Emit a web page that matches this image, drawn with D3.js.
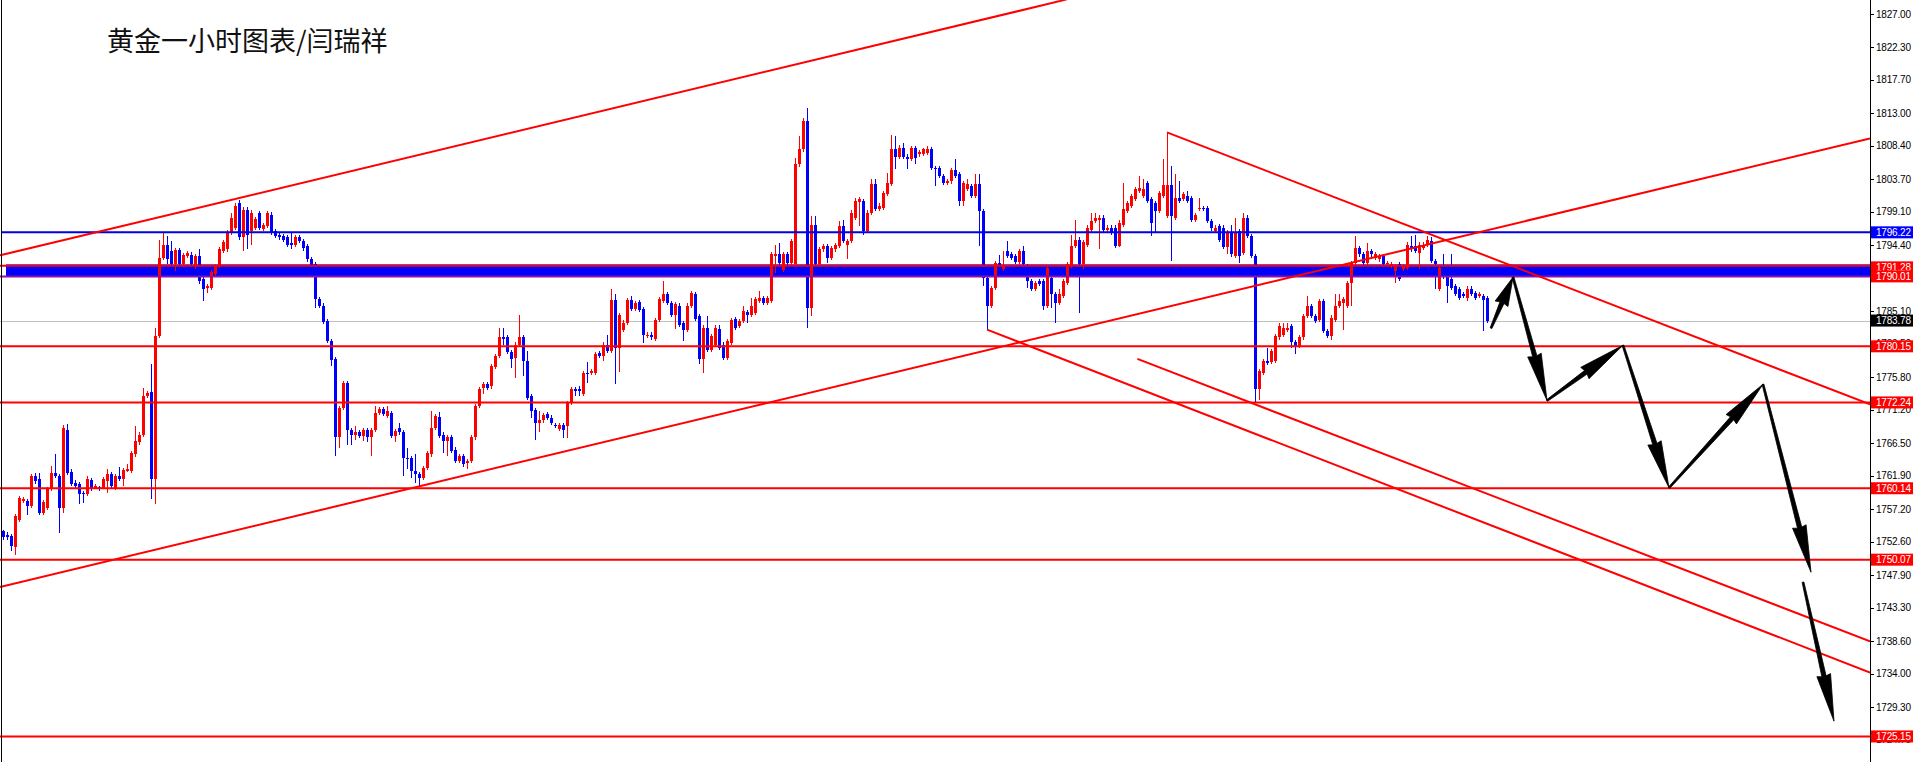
<!DOCTYPE html>
<html><head><meta charset="utf-8">
<script src="https://cdn.jsdelivr.net/npm/d3@7"></script>
<style>html,body{margin:0;padding:0;background:#fff;overflow:hidden}</style>
</head><body>
<svg id="chart" width="1913" height="762"></svg>
<script>
// ---------- data ----------
const title = "黄金一小时图表/闫瑞祥";
const open = [1754.1,1753.6,1753.4,1751.8,1755.7,1758.3,1758.3,1757.6,1761.8,1761.4,1756.7,1757.4,1760.0,1762.3,1761.9,1757.4,1768.4,1762.5,1760.9,1760.7,1759.5,1759.3,1761.3,1760.2,1760.3,1760.2,1761.1,1762.2,1760.2,1761.9,1761.4,1762.6,1762.6,1764.9,1766.6,1767.7,1773.1,1773.7,1761.4,1781.6,1792.6,1794.5,1793.6,1791.7,1793.7,1791.7,1792.9,1793.0,1791.5,1792.9,1789.6,1788.4,1788.4,1790.3,1791.5,1793.6,1793.8,1796.2,1796.9,1800.4,1795.5,1799.4,1796.4,1796.9,1798.9,1796.7,1797.1,1798.7,1796.4,1795.8,1795.7,1795.5,1794.7,1794.5,1795.5,1795.0,1794.3,1792.5,1791.7,1786.8,1785.9,1783.7,1780.9,1778.3,1767.3,1771.5,1775.0,1768.4,1767.7,1768.0,1767.5,1768.3,1767.3,1768.4,1770.8,1771.3,1770.3,1770.8,1767.5,1768.7,1768.0,1764.4,1764.4,1762.6,1762.1,1761.6,1763.0,1764.9,1768.7,1770.2,1767.7,1766.8,1767.3,1765.6,1764.0,1764.7,1763.7,1764.0,1767.3,1771.7,1774.3,1774.8,1774.5,1777.3,1778.8,1781.5,1781.5,1779.3,1778.5,1780.4,1781.5,1778.1,1773.1,1771.2,1769.4,1769.7,1770.6,1770.1,1769.1,1768.5,1769.0,1768.9,1772.2,1774.1,1774.1,1773.4,1776.4,1776.4,1776.4,1779.2,1778.8,1780.4,1779.5,1786.7,1779.9,1782.5,1783.5,1786.7,1785.4,1786.4,1785.4,1781.6,1781.8,1781.2,1783.9,1786.5,1787.5,1786.3,1784.6,1785.9,1783.4,1782.5,1785.9,1787.5,1784.4,1778.3,1782.8,1779.7,1780.4,1782.6,1780.4,1778.5,1780.6,1784.0,1783.0,1783.7,1785.0,1784.6,1784.9,1786.5,1787.0,1786.3,1786.5,1792.9,1793.1,1790.9,1793.1,1791.9,1791.8,1805.8,1807.9,1811.9,1785.6,1797.2,1791.7,1793.8,1794.3,1792.6,1793.8,1794.3,1797.1,1794.5,1795.0,1798.3,1800.5,1800.6,1796.4,1799.0,1803.1,1799.5,1799.7,1801.6,1803.0,1807.9,1806.9,1808.1,1806.9,1806.6,1808.1,1807.2,1807.3,1807.4,1807.9,1805.3,1805.3,1804.2,1803.2,1803.4,1805.0,1804.4,1800.6,1802.3,1802.8,1801.3,1803.0,1799.2,1789.8,1785.8,1788.4,1791.9,1791.0,1793.6,1793.2,1792.9,1792.0,1793.6,1791.5,1789.3,1788.2,1789.3,1789.3,1785.8,1789.8,1787.5,1786.3,1787.3,1789.1,1791.5,1794.3,1795.2,1791.7,1794.5,1796.6,1797.8,1798.0,1798.3,1796.6,1796.9,1796.9,1794.3,1797.3,1799.2,1799.9,1800.9,1802.0,1801.3,1803.2,1800.9,1800.4,1799.2,1801.3,1798.5,1802.9,1798.3,1801.1,1800.9,1801.3,1801.1,1798.0,1799.5,1799.7,1799.7,1797.8,1796.4,1797.1,1796.9,1794.1,1796.2,1792.9,1796.4,1793.3,1798.3,1795.7,1792.9,1774.1,1776.4,1778.1,1777.9,1778.1,1781.4,1781.8,1782.5,1783.0,1780.7,1780.2,1781.4,1784.4,1785.8,1784.4,1783.9,1786.5,1782.3,1781.6,1783.9,1785.8,1786.3,1785.8,1789.1,1791.9,1794.0,1793.1,1791.9,1793.6,1792.6,1792.4,1792.9,1791.7,1791.5,1790.8,1791.7,1791.0,1791.2,1794.3,1794.3,1793.3,1794.0,1794.5,1795.0,1792.2,1788.2,1791.5,1790.0,1789.6,1788.6,1788.2,1787.5,1786.9,1788.3,1787.7,1787.2,1787.2,1786.9];
const high = [1754.3,1754.0,1753.7,1756.5,1759.0,1758.9,1758.6,1762.2,1762.3,1762.3,1758.5,1760.3,1763.3,1764.9,1762.2,1769.0,1769.2,1762.8,1761.3,1761.0,1759.8,1761.8,1761.6,1760.7,1760.5,1761.7,1762.8,1762.5,1762.2,1763.2,1763.0,1763.5,1765.4,1768.9,1768.0,1774.3,1773.9,1777.6,1782.8,1795.2,1796.2,1795.7,1795.0,1794.0,1794.0,1793.3,1793.6,1793.4,1793.2,1793.8,1789.9,1788.9,1790.9,1791.8,1794.1,1795.1,1796.5,1798.9,1800.4,1800.8,1799.8,1799.8,1799.4,1798.4,1799.2,1797.5,1799.2,1799.1,1796.7,1796.1,1796.0,1795.8,1796.3,1795.8,1795.8,1795.3,1794.6,1792.8,1792.0,1787.1,1786.2,1784.0,1781.2,1778.6,1771.8,1775.3,1775.3,1768.7,1768.9,1768.3,1768.7,1768.6,1768.7,1771.8,1771.6,1771.6,1771.8,1771.1,1768.5,1769.4,1768.3,1765.8,1764.7,1764.9,1762.4,1763.3,1765.4,1771.0,1770.6,1770.9,1768.0,1767.6,1767.6,1765.9,1765.0,1765.0,1764.3,1767.6,1772.0,1774.4,1775.1,1775.1,1777.7,1779.1,1782.8,1782.8,1781.8,1779.6,1780.7,1784.5,1781.8,1779.5,1773.4,1771.5,1771.0,1770.8,1770.9,1770.4,1769.4,1769.3,1769.3,1772.5,1774.4,1774.4,1774.5,1776.7,1777.9,1776.9,1779.3,1779.5,1780.7,1781.7,1788.3,1787.5,1784.9,1783.8,1787.0,1787.3,1786.6,1786.7,1785.7,1782.1,1782.1,1784.2,1787.1,1789.3,1787.8,1786.6,1786.4,1786.2,1783.7,1786.2,1788.0,1787.8,1784.7,1783.1,1784.4,1781.9,1783.1,1783.2,1780.7,1781.2,1784.2,1784.3,1784.0,1785.8,1785.3,1787.0,1787.1,1788.0,1787.3,1787.2,1793.4,1794.4,1794.7,1793.4,1793.4,1795.3,1806.7,1809.8,1812.4,1813.8,1798.5,1798.5,1794.2,1794.6,1794.6,1794.3,1794.7,1797.8,1798.0,1795.3,1799.3,1801.0,1801.2,1800.9,1799.3,1803.7,1803.7,1800.3,1802.0,1804.6,1810.0,1809.8,1808.6,1808.8,1807.2,1808.4,1808.4,1807.8,1808.1,1808.4,1808.2,1805.6,1805.6,1804.5,1803.7,1805.3,1806.5,1804.7,1803.5,1803.7,1803.1,1804.4,1804.4,1799.5,1790.1,1788.7,1792.2,1793.0,1793.6,1795.0,1793.5,1793.2,1793.9,1794.3,1791.8,1789.6,1789.4,1789.6,1789.6,1791.5,1790.1,1787.8,1788.2,1789.7,1792.0,1795.9,1798.0,1795.5,1795.1,1797.2,1799.0,1799.0,1798.6,1798.6,1797.2,1797.2,1797.2,1797.9,1803.2,1800.7,1801.6,1802.6,1804.2,1803.7,1803.5,1801.2,1800.7,1802.1,1806.6,1810.3,1805.6,1804.4,1803.4,1801.9,1802.0,1801.4,1799.0,1801.1,1800.0,1800.0,1798.1,1797.2,1797.4,1797.2,1796.5,1797.3,1798.3,1796.7,1799.0,1798.6,1796.0,1793.2,1777.0,1778.4,1779.9,1779.8,1781.9,1783.5,1783.5,1783.5,1783.3,1781.0,1781.7,1784.7,1787.2,1786.1,1784.7,1786.8,1786.8,1782.6,1784.5,1787.5,1787.5,1787.1,1789.4,1792.2,1795.7,1794.3,1793.4,1794.7,1793.9,1793.4,1793.2,1793.2,1792.2,1792.0,1791.8,1792.0,1791.8,1794.8,1795.7,1795.9,1794.8,1794.8,1795.7,1795.5,1792.5,1791.5,1793.1,1790.3,1793.1,1788.9,1788.5,1787.8,1788.6,1788.6,1788.0,1787.8,1787.5,1787.2];
const low = [1752.9,1752.8,1751.3,1750.7,1755.4,1758.0,1756.4,1757.3,1760.7,1756.4,1756.4,1757.1,1759.7,1761.6,1753.9,1756.7,1762.0,1760.4,1760.0,1757.9,1758.0,1759.0,1759.7,1760.0,1759.8,1760.0,1759.4,1760.2,1759.9,1761.1,1760.5,1762.4,1762.3,1764.6,1766.3,1767.4,1772.8,1758.6,1757.9,1781.3,1792.3,1791.7,1791.4,1790.8,1791.4,1791.4,1792.6,1791.4,1791.1,1789.0,1786.5,1787.6,1788.1,1790.0,1791.2,1793.3,1793.5,1795.9,1796.6,1795.2,1793.6,1793.8,1794.5,1796.6,1796.6,1796.4,1796.8,1795.9,1795.4,1795.2,1794.9,1794.2,1793.8,1794.2,1794.7,1793.6,1792.1,1791.3,1785.6,1785.6,1783.3,1780.6,1777.4,1764.7,1765.8,1771.2,1766.3,1766.3,1767.0,1767.2,1766.8,1766.6,1764.7,1768.1,1770.5,1770.3,1770.0,1767.2,1766.6,1767.7,1761.8,1762.8,1761.6,1760.9,1760.4,1761.3,1762.7,1764.6,1768.4,1767.2,1765.1,1764.7,1765.1,1763.7,1763.7,1763.2,1762.8,1763.7,1767.0,1771.4,1773.4,1774.0,1774.2,1777.0,1778.5,1780.4,1779.0,1777.1,1775.7,1780.1,1775.9,1772.6,1770.1,1767.0,1768.0,1769.4,1769.7,1769.1,1768.6,1768.2,1767.2,1767.2,1771.9,1773.1,1773.2,1773.1,1775.0,1776.1,1776.1,1778.5,1778.1,1779.2,1779.2,1774.8,1776.5,1782.2,1783.2,1785.1,1785.1,1785.0,1780.6,1781.3,1781.1,1780.9,1783.6,1786.2,1786.0,1784.3,1782.6,1782.9,1780.9,1782.2,1785.6,1783.7,1777.6,1776.4,1779.4,1779.4,1780.1,1779.6,1778.2,1778.2,1780.3,1782.5,1782.7,1783.4,1783.5,1784.3,1784.6,1786.2,1786.0,1786.0,1786.2,1790.5,1790.5,1790.6,1791.6,1791.6,1791.5,1805.5,1807.6,1782.8,1784.4,1791.4,1791.4,1793.5,1791.9,1792.3,1793.5,1794.0,1794.7,1792.4,1794.7,1798.0,1797.1,1795.9,1796.1,1798.7,1799.2,1799.2,1799.4,1801.3,1802.7,1805.1,1806.6,1806.6,1805.1,1806.3,1805.8,1806.9,1807.0,1807.1,1805.0,1802.7,1803.9,1802.9,1802.9,1803.1,1803.9,1799.9,1799.9,1802.0,1801.0,1801.0,1794.3,1788.6,1782.5,1785.5,1788.1,1790.3,1790.7,1792.6,1792.3,1791.7,1791.7,1791.4,1788.4,1787.9,1787.9,1788.6,1785.3,1785.5,1785.6,1783.5,1786.0,1787.0,1788.8,1791.2,1794.0,1784.9,1791.0,1794.2,1796.3,1797.5,1793.8,1796.3,1796.3,1795.9,1794.0,1794.1,1797.0,1798.9,1799.6,1800.6,1801.7,1801.0,1800.3,1795.7,1796.2,1799.0,1801.0,1798.2,1792.2,1798.0,1800.3,1800.6,1800.3,1797.7,1797.7,1799.2,1799.2,1797.5,1796.4,1796.1,1794.9,1793.8,1793.1,1792.8,1792.6,1791.9,1793.0,1795.4,1792.6,1772.3,1772.6,1776.1,1777.5,1777.6,1777.8,1781.1,1781.5,1782.2,1779.9,1779.0,1779.9,1781.1,1784.1,1784.1,1783.4,1783.6,1782.0,1781.3,1781.1,1783.6,1785.5,1782.5,1785.5,1785.8,1791.6,1792.8,1791.6,1791.6,1792.8,1792.3,1792.1,1791.4,1791.4,1791.2,1789.1,1789.3,1790.7,1790.9,1793.5,1793.3,1791.0,1793.7,1794.2,1791.9,1788.2,1787.9,1789.7,1786.3,1788.1,1787.2,1786.7,1786.9,1786.6,1787.2,1786.7,1786.9,1782.3,1783.4];
const close = [1753.2,1753.2,1752.0,1756.2,1758.7,1758.6,1757.6,1761.9,1761.1,1756.7,1758.2,1760.0,1762.3,1761.9,1757.4,1768.7,1762.3,1760.7,1760.4,1759.3,1759.3,1761.4,1760.0,1760.4,1760.1,1761.4,1762.2,1760.5,1761.9,1761.4,1762.7,1762.8,1765.1,1766.8,1767.7,1773.2,1773.6,1761.4,1781.6,1792.6,1794.5,1792.4,1791.7,1793.7,1791.7,1793.0,1793.3,1791.7,1792.9,1789.3,1788.3,1788.6,1790.6,1791.5,1793.8,1794.8,1796.2,1798.3,1799.9,1795.5,1799.4,1795.9,1799.0,1798.1,1796.9,1797.2,1798.9,1796.2,1795.7,1795.6,1795.2,1794.5,1794.4,1795.5,1795.0,1794.0,1792.4,1791.6,1786.8,1785.9,1783.6,1780.9,1778.2,1767.3,1771.5,1775.0,1768.4,1767.7,1768.1,1767.5,1768.4,1767.3,1768.4,1770.8,1771.3,1770.6,1771.0,1767.5,1768.2,1768.0,1764.4,1764.2,1762.6,1762.1,1761.6,1763.0,1765.1,1768.7,1770.3,1767.5,1766.8,1767.3,1765.4,1764.0,1764.7,1763.5,1764.0,1767.3,1771.7,1774.1,1774.8,1774.3,1777.4,1778.8,1781.4,1781.2,1779.3,1778.4,1780.4,1781.5,1778.1,1772.9,1771.0,1769.4,1769.8,1770.5,1770.0,1769.4,1768.9,1769.0,1768.3,1772.2,1774.1,1773.8,1773.8,1776.4,1776.2,1776.6,1779.0,1778.8,1780.4,1779.5,1786.7,1779.9,1784.6,1783.5,1786.7,1785.4,1786.3,1785.3,1781.8,1781.8,1781.4,1783.9,1786.8,1787.5,1786.3,1784.6,1786.1,1783.2,1782.5,1785.9,1787.7,1784.0,1778.3,1782.8,1779.7,1781.6,1782.8,1779.9,1778.5,1780.9,1783.9,1782.8,1783.7,1785.1,1784.6,1785.9,1786.8,1787.0,1786.3,1786.9,1793.1,1793.1,1791.9,1793.1,1791.9,1795.0,1805.8,1807.9,1811.9,1785.6,1797.2,1791.7,1793.9,1794.3,1792.6,1794.0,1794.4,1797.1,1795.0,1795.0,1799.0,1800.6,1800.9,1796.4,1799.0,1803.1,1799.5,1800.0,1801.7,1803.2,1807.9,1806.9,1808.1,1806.9,1806.6,1808.1,1806.7,1807.5,1807.9,1807.9,1805.3,1805.1,1804.2,1803.2,1803.4,1805.0,1804.2,1800.6,1803.2,1803.0,1801.3,1803.0,1799.2,1789.8,1785.8,1788.4,1791.9,1791.5,1791.5,1792.9,1792.6,1792.0,1793.6,1791.7,1789.3,1788.2,1789.1,1788.9,1785.8,1791.2,1787.5,1786.3,1787.5,1789.4,1791.7,1794.3,1795.2,1791.7,1794.8,1796.9,1797.8,1798.3,1798.3,1796.6,1796.9,1796.2,1794.3,1797.6,1799.5,1800.4,1801.3,1802.3,1802.5,1802.3,1800.6,1797.6,1799.2,1801.8,1802.9,1802.9,1798.5,1801.1,1800.6,1801.6,1800.6,1798.0,1798.7,1799.7,1799.5,1797.8,1796.9,1796.9,1795.2,1794.1,1796.2,1793.1,1796.2,1792.9,1798.3,1795.7,1792.9,1774.1,1776.7,1778.1,1777.8,1779.5,1781.6,1783.0,1782.8,1782.8,1780.7,1780.2,1781.4,1784.4,1785.8,1784.4,1783.7,1786.5,1782.3,1781.6,1784.2,1785.8,1786.5,1786.8,1789.1,1791.9,1794.0,1793.1,1791.9,1793.6,1793.1,1793.1,1792.9,1791.7,1791.9,1791.7,1791.5,1789.6,1791.5,1794.5,1793.8,1793.6,1794.5,1794.5,1795.2,1792.2,1791.7,1791.2,1790.0,1788.6,1788.4,1787.5,1787.0,1787.2,1788.3,1787.5,1787.0,1787.5,1786.7,1783.78];

const tickLabels = ["1827.00","1822.30","1817.70","1813.00","1808.40","1803.70","1799.10","1794.40","1789.80","1785.10","1780.50","1775.80","1771.20","1766.50","1761.90","1757.20","1752.60","1747.90","1743.30","1738.60","1734.00","1729.30","1724.70"];
const blueLevels = [1796.22];
const redLevels = [1791.28, 1790.01, 1780.15, 1772.24, 1760.14, 1750.07, 1725.15];
const zoneRange = [1790.01, 1791.28];
const lastPrice = 1783.78;
// trend lines: [bar index, price] pairs
const trendUpper = [[-0.75, 1792.97], [265.98, 1829.06]];
const trendSupport = [[-0.75, 1746.23], [466.75, 1809.46]];
const trendFromPeak = [[291, 1810.31], [466.75, 1771.96]];
const channelLow1 = [[246, 1782.5], [466.75, 1734.16]];
const channelLow2 = [[283.6, 1778.37], [466.75, 1738.55]];
// forecast arrows: [bar index, price] start -> end
const arrowPath = [
  [[372, 1782.7], [377.5, 1789.9]],
  [[377.5, 1789.9], [386, 1772.5]],
  [[386, 1772.5], [405, 1780.3]],
  [[405, 1780.3], [416.5, 1760.2]],
  [[416.5, 1760.2], [440, 1774.8]],
  [[440, 1774.8], [452, 1748.3]],
  [[450, 1746.9], [457.75, 1727.3]]
];

// ---------- drawing ----------
const W = 1913, H = 762, axisX = 1870;
const svg = d3.select("#chart");
svg.append("rect").attr("width", W).attr("height", H).attr("fill", "#fff");

const x = d3.scaleLinear().domain([-0.75, 466.75]).range([0, axisX]);
const y = d3.scaleLinear().domain([1827, 1729.3]).range([14, 707]);

svg.append("defs").append("clipPath").attr("id", "plot")
  .append("rect").attr("x", 0).attr("y", 0).attr("width", axisX).attr("height", H);

const plot = svg.append("g").attr("clip-path", "url(#plot)");

// zone band (background)
plot.append("rect")
  .attr("x", 6).attr("width", axisX - 6)
  .attr("y", y(zoneRange[1]) - 3)
  .attr("height", y(zoneRange[0]) - y(zoneRange[1]) + 3)
  .attr("fill", "#0000ff");

// current price line
plot.append("line").attr("x1", 0).attr("x2", axisX)
  .attr("y1", Math.round(y(lastPrice)) + 0.5).attr("y2", Math.round(y(lastPrice)) + 0.5)
  .attr("stroke", "#c0c0c0").attr("stroke-width", 1);

// candles
const idx = d3.range(open.length);
const cg = plot.append("g").attr("shape-rendering", "crispEdges");
cg.selectAll("line.wick").data(idx).join("line")
  .attr("class", "wick")
  .attr("x1", i => Math.round(x(i)) + 0.5).attr("x2", i => Math.round(x(i)) + 0.5)
  .attr("y1", i => y(high[i])).attr("y2", i => y(low[i]))
  .attr("stroke", i => close[i] >= open[i] ? "#ff0000" : "#0000ff")
  .attr("stroke-width", 1);
cg.selectAll("rect.body").data(idx).join("rect")
  .attr("class", "body")
  .attr("x", i => Math.round(x(i)) - 1).attr("width", 3)
  .attr("y", i => y(Math.max(open[i], close[i])))
  .attr("height", i => Math.max(1, Math.abs(y(open[i]) - y(close[i]))))
  .attr("fill", i => close[i] >= open[i] ? "#ff0000" : "#0000ff");

// horizontal levels
plot.selectAll("line.blue").data(blueLevels).join("line")
  .attr("x1", 2).attr("x2", axisX)
  .attr("y1", d => y(d)).attr("y2", d => y(d))
  .attr("stroke", "#0000e0").attr("stroke-width", 2);
plot.selectAll("line.red").data(redLevels).join("line")
  .attr("x1", 0).attr("x2", axisX)
  .attr("y1", (d, i) => y(d) - (i === 0 ? 1.5 : 0)).attr("y2", (d, i) => y(d) - (i === 0 ? 1.5 : 0))
  .attr("stroke", (d, i) => i === 1 ? "#8a10a8" : "#ff0000").attr("stroke-width", 2);

// trend lines
const lineGen = d3.line().x(d => x(d[0])).y(d => y(d[1]));
plot.selectAll("path.trend").data([trendUpper, trendSupport, trendFromPeak, channelLow1, channelLow2]).join("path")
  .attr("d", lineGen).attr("fill", "none").attr("stroke", "#ff0000").attr("stroke-width", 2);

// arrows (tapered shaft + long head)
function arrowPoly(seg) {
  const x0 = x(seg[0][0]), y0 = y(seg[0][1]), x1 = x(seg[1][0]), y1 = y(seg[1][1]);
  const dx = x1 - x0, dy = y1 - y0, len = Math.hypot(dx, dy);
  const ux = dx / len, uy = dy / len, nx = -uy, ny = ux;
  const hl = Math.min(46, len * 0.5), hw = 7;
  const bx = x1 - ux * hl, by = y1 - uy * hl;
  const nb = 1.2; // notch back distance
  const pts = [
    [x0 + nx * 0.9, y0 + ny * 0.9], [bx + nx * 2.2, by + ny * 2.2],
    [bx - ux * nb + nx * hw, by - uy * nb + ny * hw],
    [x1, y1],
    [bx - ux * nb - nx * hw, by - uy * nb - ny * hw],
    [bx - nx * 2.2, by - ny * 2.2], [x0 - nx * 0.9, y0 - ny * 0.9]
  ];
  return pts.map(p => p.join(",")).join(" ");
}
plot.selectAll("polygon.arrow").data(arrowPath).join("polygon")
  .attr("points", arrowPoly).attr("fill", "#000").attr("stroke", "#000")
  .attr("stroke-width", 0.8).attr("stroke-linejoin", "round");

// left frame line
svg.append("line").attr("x1", 1.5).attr("x2", 1.5).attr("y1", 0).attr("y2", H)
  .attr("stroke", "#000").attr("stroke-width", 1);

// right axis
svg.append("line").attr("x1", axisX + 0.5).attr("x2", axisX + 0.5).attr("y1", 0).attr("y2", H)
  .attr("stroke", "#000").attr("stroke-width", 1);
const ax = svg.append("g").attr("font-family", "'Liberation Sans', Arial, sans-serif")
  .attr("font-size", 10).attr("letter-spacing", "-0.2px");
ax.selectAll("line.tick").data(tickLabels).join("line")
  .attr("x1", axisX).attr("x2", axisX + 4)
  .attr("y1", d => Math.round(y(+d)) + 0.5).attr("y2", d => Math.round(y(+d)) + 0.5)
  .attr("stroke", "#000");
ax.selectAll("text.tick").data(tickLabels).join("text")
  .attr("x", axisX + 6).attr("y", d => y(+d)).attr("dy", "0.35em")
  .attr("fill", "#000").text(d => d);

// price label boxes
const boxes = [
  ...redLevels.map(v => ({ v, bg: "#ff0000" })),
  { v: lastPrice, bg: "#000000" },
  ...blueLevels.map(v => ({ v, bg: "#0000ff" }))
];
const bg = ax.selectAll("g.box").data(boxes).join("g")
  .attr("transform", d => `translate(${axisX + 1},${y(d.v)})`);
bg.append("rect").attr("x", 0).attr("y", -6).attr("width", W - axisX - 1).attr("height", 12).attr("fill", d => d.bg);
bg.append("text").attr("x", 5).attr("dy", "0.35em").attr("fill", "#fff").text(d => d.v.toFixed(2));

// title
svg.append("text").attr("x", 107).attr("y", 51)
  .attr("font-family", "'Noto Sans CJK SC', sans-serif").attr("font-size", 27)
  .attr("fill", "#111").text(title);
</script>
</body></html>
